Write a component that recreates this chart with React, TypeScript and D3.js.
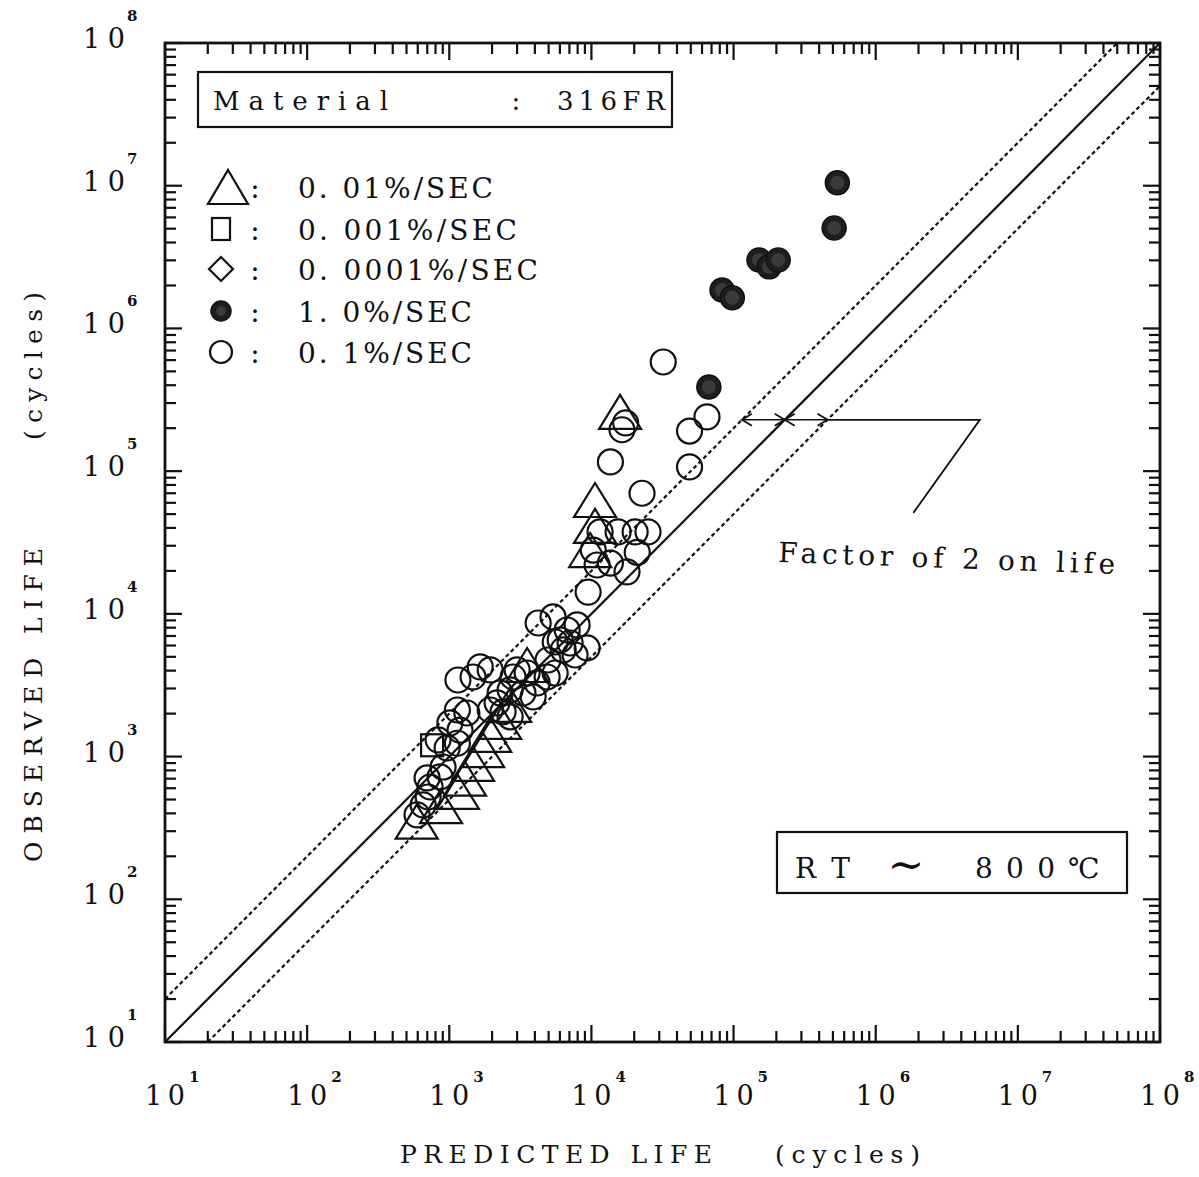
import * as d3 from 'd3'

// predicted life, observed life (cycles)
const tri001: [number, number][] = [
  [590, 350], [875, 450], [1150, 565], [1290, 700], [1470, 890], [1730, 1110], [1940, 1420],
  [2280, 1750], [2680, 2300], [3530, 4380], [10600, 62800], [10600, 41300], [9800, 28000], [15900, 260000],
]
const sq0001: [number, number][] = [[757, 1200]]
const dia00001: [number, number][] = []
const filled10: [number, number][] = [
  [537000, 10500000], [510000, 5060000], [151000, 3020000], [178000, 2700000], [206000, 3020000],
  [83000, 1860000], [98000, 1640000], [67000, 389000],
]
const open01: [number, number][] = [
  [32000, 582000], [65000, 240000], [49000, 191000], [49000, 107000], [17400, 218000], [16400, 195000],
  [13600, 116000], [22700, 70000], [11500, 37500], [15400, 37500], [20300, 37500], [25000, 37500],
  [21000, 27000], [13600, 22700], [17800, 19700], [9480, 14200], [10960, 22000], [10300, 28000],
  [593, 390], [710, 521], [733, 612], [698, 708], [861, 720], [904, 845], [966, 1150], [1140, 1240],
  [1190, 1530], [1010, 1720], [1140, 2120], [1330, 2020], [1470, 3610], [1650, 4250], [1940, 4050],
  [2170, 2380], [2280, 2790], [2680, 2930], [1940, 2120], [2390, 2060], [2680, 1900], [3000, 4050],
  [3300, 2790], [3530, 3850], [3890, 2620], [4150, 3280], [4880, 3610], [5560, 3850], [6330, 5590],
  [7080, 6250], [4220, 8630], [5370, 9510], [6030, 6560], [6750, 7710], [7930, 8360], [9330, 5770],
  [5560, 6350], [4950, 4750], [7670, 5150], [2810, 3610], [834, 1310], [655, 458], [1150, 3440],
]
const decades = [1, 2, 3, 4, 5, 6, 7, 8]
const legendRows = [
  { shape: 'tri', label: '0. 01%/SEC' },
  { shape: 'sq', label: '0. 001%/SEC' },
  { shape: 'dia', label: '0. 0001%/SEC' },
  { shape: 'filled', label: '1. 0%/SEC' },
  { shape: 'open', label: '0. 1%/SEC' },
]
const arrowLife = 229000
const leaderEnd: [number, number] = [5.4e6, 229000]
const leaderTip: [number, number] = [1.84e6, 51000]

const FONT = '"DejaVu Serif", "Liberation Serif", serif'
const W = 1199
const H = 1177
const pad = { l: 165, r: 1160, t: 43, b: 1042 }

function Marker({ shape, cx, cy, big }: { shape: string; cx: number; cy: number; big?: boolean }) {
  const sw = 2.2
  if (shape === 'tri') {
    const hw = big ? 20 : 21
    const hh = 17
    return <path d={`M${cx},${cy - hh}L${cx + hw},${cy + hh}L${cx - hw},${cy + hh}Z`} fill="none" stroke="#111" strokeWidth={sw} />
  }
  if (shape === 'sq') {
    const s = big ? 9 : 11
    return <rect x={cx - s} y={cy - (big ? 11 : s)} width={s * 2} height={big ? 22 : s * 2} fill="none" stroke="#111" strokeWidth={sw} />
  }
  if (shape === 'dia') {
    const s = 12
    return <path d={`M${cx},${cy - s}L${cx + s},${cy}L${cx},${cy + s}L${cx - s},${cy}Z`} fill="none" stroke="#111" strokeWidth={sw} />
  }
  if (shape === 'filled') {
    return (
      <g>
        <circle cx={cx} cy={cy} r={big ? 10 : 12} fill="#1e1e1e" stroke="#111" strokeWidth={1.5} />
        <circle cx={cx} cy={cy} r={big ? 5 : 7} fill="#3a3a3a" />
      </g>
    )
  }
  return <circle cx={cx} cy={cy} r={big ? 11 : 12.5} fill="none" stroke="#111" strokeWidth={sw} />
}

export default function App() {
  const x = d3.scaleLog().domain([10, 1e8]).range([pad.l, pad.r])
  const y = d3.scaleLog().domain([10, 1e8]).range([pad.b, pad.t])
  const ticks = x.ticks()
  const isMajor = (v: number) => Math.abs(Math.log10(v) - Math.round(Math.log10(v))) < 1e-9
  const tl = (v: number) => (isMajor(v) ? 17 : 11)

  const lines = [
    { f: 1, dash: undefined },
    { f: 2, dash: '4 3' },
    { f: 0.5, dash: '4 3' },
  ]
  const diag = (f: number) => {
    const x0 = Math.max(10, 10 / f)
    const x1 = Math.min(1e8, 1e8 / f)
    return { x1: x(x0), y1: y(x0 * f), x2: x(x1), y2: y(x1 * f) }
  }

  const ay = y(arrowLife)
  const ax = [x(arrowLife / 2), x(arrowLife), x(arrowLife * 2)]
  const head = (px: number, dir: number) => `M${px - dir * 10},${ay - 6}L${px},${ay}L${px - dir * 10},${ay + 6}`

  const series = [
    { shape: 'open', data: open01 },
    { shape: 'tri', data: tri001 },
    { shape: 'sq', data: sq0001 },
    { shape: 'dia', data: dia00001 },
    { shape: 'filled', data: filled10 },
  ]

  return (
    <svg width={W} height={H} style={{ position: 'absolute', left: 0, top: 0, background: '#fff' }} fontFamily={FONT}>
      {/* diagonal reference lines */}
      {lines.map((l, i) => {
        const c = diag(l.f)
        return <line key={i} {...c} stroke="#111" strokeWidth={2.2} strokeDasharray={l.dash} />
      })}

      {/* factor of 2 annotation */}
      <line x1={ax[0]} x2={ax[2]} y1={ay} y2={ay} stroke="#111" strokeWidth={1.5} />
      <path d={head(ax[0], -1) + head(ax[1], 1) + head(ax[1], -1) + head(ax[2], 1)} fill="none" stroke="#111" strokeWidth={1.8} />
      <polyline
        points={`${ax[2]},${ay} ${x(leaderEnd[0])},${y(leaderEnd[1])} ${x(leaderTip[0])},${y(leaderTip[1])}`}
        fill="none" stroke="#111" strokeWidth={1.8}
      />
      <text x={778} y={562} fontSize={28} textLength={337} lengthAdjust="spacing" transform="rotate(2 778 562)" fill="#111">
        Factor of 2 on life
      </text>

      {/* data */}
      {series.map(s => (
        <g key={s.shape}>
          {s.data.map((d, i) => <Marker key={i} shape={s.shape} cx={x(d[0])} cy={y(d[1])} />)}
        </g>
      ))}

      {/* frame and ticks */}
      <rect x={pad.l} y={pad.t} width={pad.r - pad.l} height={pad.b - pad.t} fill="none" stroke="#111" strokeWidth={2.8} />
      {ticks.map((v, i) => (
        <g key={i} stroke="#111" strokeWidth={2.2}>
          <line x1={x(v)} x2={x(v)} y1={pad.b} y2={pad.b - tl(v)} />
          <line x1={x(v)} x2={x(v)} y1={pad.t} y2={pad.t + tl(v)} />
          <line y1={y(v)} y2={y(v)} x1={pad.l} x2={pad.l + tl(v)} />
          <line y1={y(v)} y2={y(v)} x1={pad.r} x2={pad.r - tl(v)} />
        </g>
      ))}

      {/* tick labels */}
      {decades.map(e => (
        <g key={e} fill="#111">
          <text x={x(10 ** e)} y={1105} fontSize={27} textAnchor="middle" textLength={40} lengthAdjust="spacing" style={{ whiteSpace: 'pre' }}>1 0</text>
          <text x={x(10 ** e) + 24} y={1082} fontSize={15} fontWeight="bold">{e}</text>
          <text x={104} y={y(10 ** e) + 5} fontSize={27} textAnchor="middle" textLength={42} lengthAdjust="spacing" style={{ whiteSpace: 'pre' }}>1 0</text>
          <text x={127} y={y(10 ** e) - 22} fontSize={15} fontWeight="bold">{e}</text>
        </g>
      ))}

      {/* axis titles */}
      <text x={400} y={1163} fontSize={25} textLength={312} lengthAdjust="spacing" fill="#111">PREDICTED LIFE</text>
      <text x={775} y={1163} fontSize={25} textLength={145} lengthAdjust="spacing" fill="#111">(cycles)</text>
      <g transform="translate(42,0) rotate(-90)" fill="#111">
        <text x={-862} y={0} fontSize={25} textLength={314} lengthAdjust="spacing">OBSERVED LIFE</text>
        <text x={-440} y={0} fontSize={25} textLength={148} lengthAdjust="spacing">(cycles)</text>
      </g>

      {/* material box */}
      <rect x={198} y={72} width={474} height={55} fill="#fff" stroke="#111" strokeWidth={2.2} />
      <text x={213} y={110} fontSize={26} textLength={175} lengthAdjust="spacing" fill="#111">Material</text>
      <text x={516} y={110} fontSize={26} textAnchor="middle" fill="#111">:</text>
      <text x={557} y={110} fontSize={26} textLength={108} lengthAdjust="spacing" fill="#111">316FR</text>

      {/* legend */}
      {legendRows.map((r, i) => {
        const base = [198, 240, 280, 322, 363][i]
        const widths = [195, 219, 240, 174, 174]
        return (
          <g key={r.shape}>
            <Marker shape={r.shape} cx={r.shape === 'tri' ? 228 : 221} cy={base - 11} big />
            <text x={255} y={base} fontSize={28} textAnchor="middle" fill="#111">:</text>
            <text x={298} y={base} fontSize={28} textLength={widths[i]} lengthAdjust="spacing" fill="#111" style={{ whiteSpace: 'pre' }}>{r.label}</text>
          </g>
        )
      })}

      {/* temperature box */}
      <rect x={777} y={832} width={350} height={61} fill="#fff" stroke="#111" strokeWidth={2.2} />
      <text x={795} y={878} fontSize={28} textLength={55} lengthAdjust="spacing" fill="#111" style={{ whiteSpace: 'pre' }}>R T</text>
      <text x={906} y={880} fontSize={44} textAnchor="middle" fill="#111">~</text>
      <text x={975} y={878} fontSize={28} textLength={80} lengthAdjust="spacing" fill="#111" style={{ whiteSpace: 'pre' }}>8 0 0</text>
      <text x={1068} y={878} fontSize={28} fill="#111">℃</text>
    </svg>
  )
}
